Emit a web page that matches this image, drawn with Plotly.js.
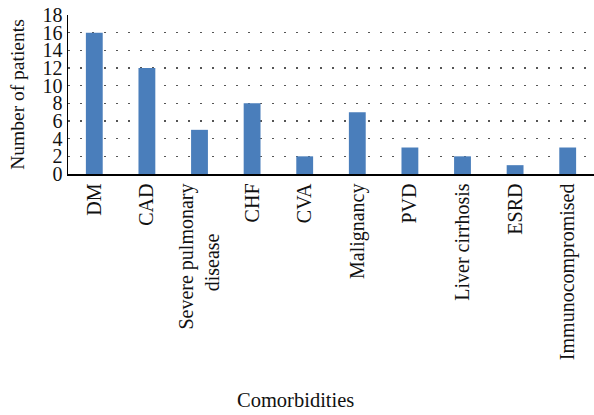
<!DOCTYPE html>
<html><head><meta charset="utf-8">
<script src="https://cdn.plot.ly/plotly-3.0.1.min.js"></script>
<style>html,body{margin:0;padding:0;background:#fff;}</style>
</head><body>
<div id="chart" style="width:594px;height:415px;"></div>
<script>
const categories = ["DM", "CAD", "Severe pulmonary<br>disease\u00a0\u00a0\u00a0\u00a0\u00a0\u00a0\u00a0\u00a0\u00a0\u00a0", "CHF", "CVA", "Malignancy", "PVD", "Liver cirrhosis", "ESRD", "Immunocompromised"];
const patients = [16, 12, 5, 8, 2, 7, 3, 2, 1, 3];
const yTicks = [0, 2, 4, 6, 8, 10, 12, 14, 16, 18];

const font = "Liberation Serif, Times New Roman, serif";
Plotly.newPlot("chart", [{
  type: "bar",
  x: categories,
  y: patients,
  marker: {color: "#4a7ebb"},
  hoverinfo: "none"
}], {
  width: 594, height: 415,
  margin: {l: 68, r: 0, t: 15, b: 241},
  paper_bgcolor: "#fff", plot_bgcolor: "#fff",
  bargap: 0.68,
  showlegend: false,
  font: {family: font, size: 20, color: "#111"},
  xaxis: {
    type: "category",
    tickangle: -90,
    showline: true, linecolor: "#000", linewidth: 1.5,
    ticks: "", showgrid: false,
    tickfont: {family: font, size: 20, color: "#111"},
    automargin: false
  },
  yaxis: {
    range: [0, 18],
    tickvals: yTicks,
    showline: true, linecolor: "#000", linewidth: 1.5,
    ticks: "", ticklen: 0,
    showgrid: true, gridcolor: "#555", griddash: "1.5px,10.5px", gridwidth: 1.2,
    zeroline: false,
    tickfont: {family: font, size: 20, color: "#111"},
    title: {text: "Number of patients", font: {family: font, size: 19.5, color: "#111"}, standoff: 12},
    automargin: false
  },
  annotations: [{
    text: "Comorbidities", xref: "paper", yref: "paper",
    x: 0.4316, y: -1.42, showarrow: false,
    xanchor: "center", yanchor: "middle",
    font: {family: font, size: 20.5, color: "#111"}
  }]
}, {displayModeBar: false, staticPlot: true});
</script>
</body></html>
